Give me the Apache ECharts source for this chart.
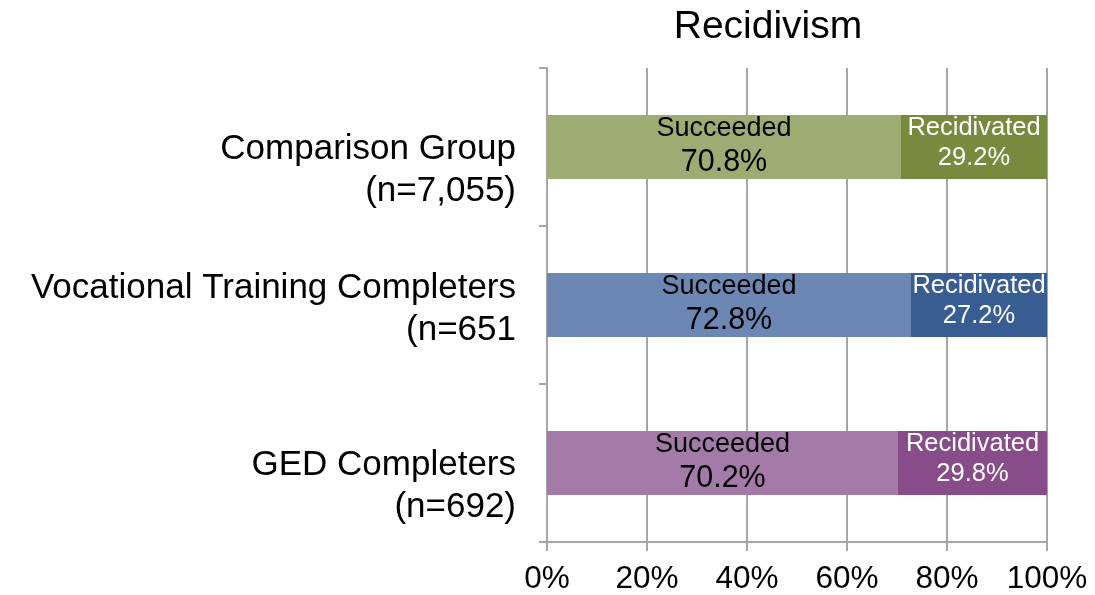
<!DOCTYPE html>
<html><head><meta charset="utf-8">
<script src="https://cdn.jsdelivr.net/npm/echarts@6/dist/echarts.min.js"></script>
<style>html,body{margin:0;padding:0;background:#fff}#c{width:1095px;height:595px}</style>
</head><body><div id="c"></div>
<script>
const categories = ['Comparison Group\n(n=7,055)', 'Vocational Training Completers\n(n=651', 'GED Completers\n(n=692)'];
const succeeded = [70.8, 72.8, 70.2];
const recidivated = [29.2, 27.2, 29.8];
const succeededColors = ['#9dac72', '#6d87b4', '#a47ba8'];
const recidivatedColors = ['#778a3d', '#375d93', '#874c89'];
const xTicks = [0, 20, 40, 60, 80, 100];

const FONT = "'Liberation Sans', Arial, sans-serif";
// categories whose first line sits on the band centre (blank line prepended)
const firstLineCentred = [true, false, true];

const chart = echarts.init(document.getElementById('c'), null, {renderer:'canvas'});
chart.setOption({
  animation: false,
  textStyle: {fontFamily: FONT},
  title: {text: 'Recidivism', left: 763, textAlign: 'center', top: 3,
    textStyle: {fontFamily: FONT, fontSize: 39, fontWeight: 'normal', color: '#000'}},
  grid: {left: 547, right: 48, top: 68, bottom: 52, containLabel: false},
  xAxis: {
    type: 'value', min: xTicks[0], max: xTicks[xTicks.length-1], interval: 20,
    axisLine: {show: true, lineStyle: {color: '#a6a6a6', width: 2}},
    axisTick: {show: true, length: 9, lineStyle: {color: '#a6a6a6', width: 2}},
    splitLine: {show: true, lineStyle: {color: '#a6a6a6', width: 2}},
    axisLabel: {formatter: v => v + '%', fontFamily: FONT, fontSize: 31.5, color: '#000', margin: 21}
  },
  yAxis: {
    type: 'category', inverse: true,
    data: categories,
    axisLine: {show: true, lineStyle: {color: '#a6a6a6', width: 2}},
    axisTick: {show: true, length: 8, lineStyle: {color: '#a6a6a6', width: 2}},
    axisLabel: {
      margin: 31, align: 'right',
      formatter: (val, idx) => {
        const lines = val.split('\n').map(s => '{n|' + s + '}');
        if (firstLineCentred[idx]) lines.unshift('{p| }');
        else lines.unshift('{s| }');
        return lines.join('\n');
      },
      rich: {
        n: {fontFamily: FONT, fontSize: 35, color: '#000', lineHeight: 42, align: 'right'},
        p: {fontFamily: FONT, fontSize: 35, color: '#000', lineHeight: 46, align: 'right'},
        s: {fontFamily: FONT, fontSize: 8, color: '#000', lineHeight: 8, align: 'right'}
      }
    }
  },
  series: [
    {
      name: 'Succeeded', type: 'bar', stack: 'a', barWidth: 64,
      data: succeeded.map((v, i) => ({value: v, itemStyle: {color: succeededColors[i]}})),
      label: {show: true, position: 'inside',
        formatter: p => '{a|Succeeded}\n{b|' + p.value.toFixed(1) + '%}',
        rich: {
          a: {fontFamily: FONT, fontSize: 27, color: '#000', lineHeight: 31, align: 'center'},
          b: {fontFamily: FONT, fontSize: 30.5, color: '#000', lineHeight: 36, align: 'center'}
        }}
    },
    {
      name: 'Recidivated', type: 'bar', stack: 'a', barWidth: 64,
      data: recidivated.map((v, i) => ({value: v, itemStyle: {color: recidivatedColors[i]}})),
      label: {show: true, position: 'inside', offset: [0, -4],
        formatter: p => '{a|Recidivated}\n{a|' + p.value.toFixed(1) + '%}',
        rich: {
          a: {fontFamily: FONT, fontSize: 25.5, color: '#fff', lineHeight: 30, align: 'center'}
        }}
    }
  ]
});
</script></body></html>
